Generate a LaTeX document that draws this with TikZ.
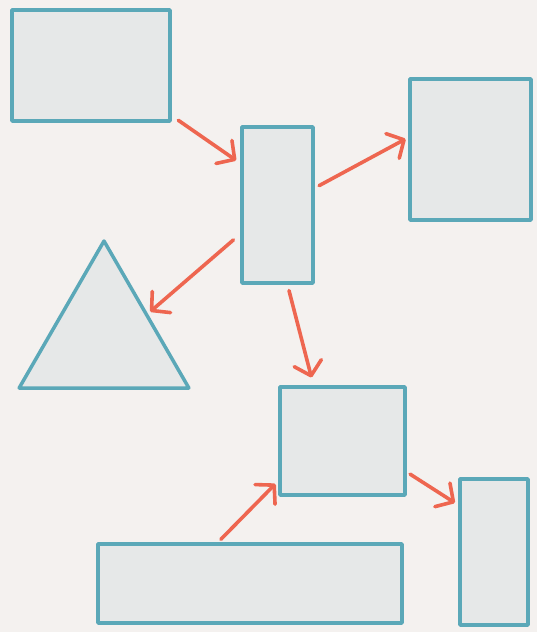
\documentclass[tikz,border=0pt]{standalone}
\usetikzlibrary{arrows.meta,shapes.geometric}
\definecolor{paper}{HTML}{F4F1EF}
\definecolor{boxfill}{HTML}{E6E8E8}
\definecolor{boxline}{HTML}{5BA8B8}
\definecolor{flow}{HTML}{EE6650}
\begin{document}
\begin{tikzpicture}[
    x=1pt, y=-1pt,
    outline/.style={
        draw=boxline, fill=boxfill, line width=3.5pt,
        line join=round, inner sep=0pt
    },
    block/.style={outline, rectangle},
    wedge/.style={outline, regular polygon, regular polygon sides=3},
    link/.style={
        draw=flow, line width=3.6pt, line cap=round,
        -{Straight Barb[round, length=13pt, width=28pt]}
    }
]
    % --- 0. Paper ---
    \fill[paper] (0,0) rectangle (537,632);
    \useasboundingbox (0,0) rectangle (537,632);

    % --- 1. Shapes ---
    \node[block, minimum width=158pt, minimum height=111pt] (top) at (91,65.5) {};
    \node[block, minimum width=71pt, minimum height=156pt] (hub) at (277.5,205) {};
    \node[block, minimum width=121pt, minimum height=141pt] (square) at (470.5,149.5) {};
    \node[wedge, minimum size=196pt] (tri) at (104,339) {};
    \node[block, minimum width=125pt, minimum height=108pt] (mid) at (342.5,441) {};
    \node[block, minimum width=68pt, minimum height=146pt] (tall) at (494,552) {};
    \node[block, minimum width=304pt, minimum height=79pt] (base) at (250,583.5) {};

    % --- 2. Arrows ---
    \draw[link, shorten <=8pt, shorten >=5pt] ([yshift=7pt]top.south east) -- ([yshift=-38pt]hub.north west);
    \draw[link, shorten <=5pt, shorten >=3pt] ([yshift=17pt]hub.east) -- ([yshift=12pt]square.west);
    \draw[link, shorten <=9pt, shorten >=3pt] ([yshift=-29pt]hub.west) -- (tri.side 3);
    \draw[link, shorten <=6pt, shorten >=8pt] ([xshift=10pt]hub.south) -- ([xshift=-29pt]mid.north);
    \draw[link, shorten <=4pt, shorten >=4pt] ([yshift=-31pt]mid.east) -- ([yshift=47pt]tall.west);
    \draw[link, shorten <=4pt, shorten >=4pt] ([xshift=-32pt]base.north) -- ([yshift=-40pt]mid.west);
\end{tikzpicture}
\end{document}
